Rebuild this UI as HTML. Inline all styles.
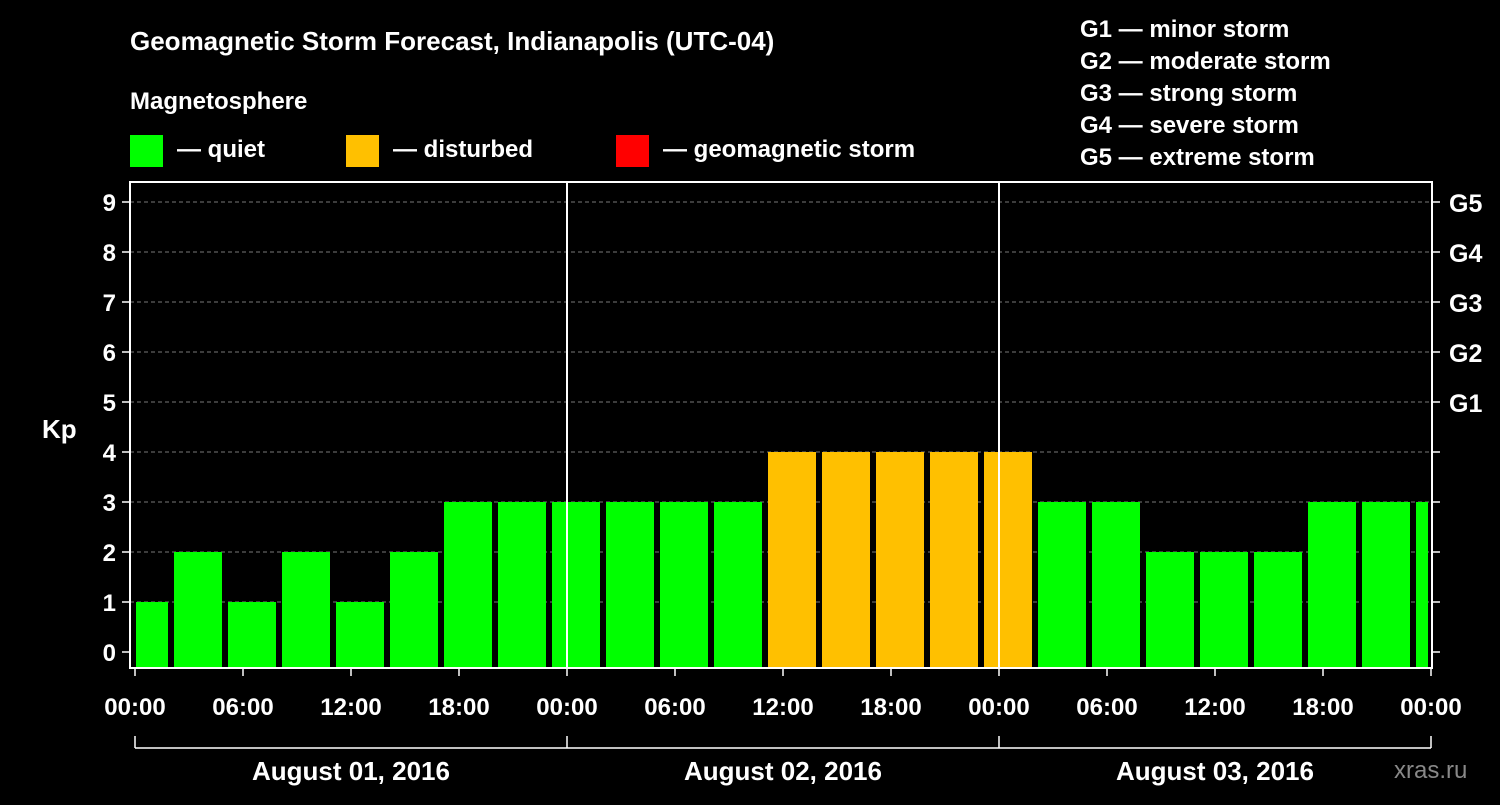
<!DOCTYPE html>
<html><head><meta charset="utf-8"><style>
body{margin:0;background:#000;width:1500px;height:800px;overflow:hidden}
svg text{font-family:"Liberation Sans",Arial,sans-serif;font-weight:bold;fill:#fff}
</style></head><body>
<svg id="c" width="1500" height="800">
<text x="130" y="50" font-size="26">Geomagnetic Storm Forecast, Indianapolis (UTC-04)</text>
<text x="130" y="109" font-size="24">Magnetosphere</text>
<g><rect x="130" y="135" width="33" height="32" fill="#00ff00"/><text x="177" y="157" font-size="24">— quiet</text></g>
<g><rect x="346" y="135" width="33" height="32" fill="#ffc000"/><text x="393" y="157" font-size="24">— disturbed</text></g>
<g><rect x="616" y="135" width="33" height="32" fill="#ff0000"/><text x="663" y="157" font-size="24">— geomagnetic storm</text></g>
<g font-size="24">
<text x="1080" y="37">G1 — minor storm</text><text x="1080" y="69">G2 — moderate storm</text><text x="1080" y="101">G3 — strong storm</text><text x="1080" y="133">G4 — severe storm</text><text x="1080" y="165">G5 — extreme storm</text></g>
<text x="42" y="438" font-size="26">Kp</text>
<g id="plot"></g>
<text x="1394" y="778" font-size="24" fill="#888" style="fill:#888;font-weight:normal">xras.ru</text>
</svg>
<script>
const kpValues=[1,2,1,2,1,2,3,3,3,3,3,3,4,4,4,4,4,3,3,2,2,2,3,3,3];
const yTicks=[0,1,2,3,4,5,6,7,8,9];
const gLabels=[[5,"G1"],[6,"G2"],[7,"G3"],[8,"G4"],[9,"G5"]];
const xLabels=["00:00","06:00","12:00","18:00","00:00","06:00","12:00","18:00","00:00","06:00","12:00","18:00","00:00"];
const dayLabels=["August 01, 2016","August 02, 2016","August 03, 2016"];
const L=130,R=1432,T=182,B=668;
const y=v=>652-v*50, x=h=>135+h*18;
const ns="http://www.w3.org/2000/svg",g=document.getElementById('plot');
function el(t,a,p){const e=document.createElementNS(ns,t);for(const k in a)e.setAttribute(k,a[k]);(p||g).appendChild(e);return e;}
yTicks.forEach(v=>{
 if(v>0){const l=el('line',{x1:L,x2:R,y1:y(v),y2:y(v),stroke:'#777','stroke-dasharray':'4,3'});}
 el('line',{x1:L-8,x2:L,y1:y(v),y2:y(v),stroke:'#fff','stroke-width':1.5});
 el('line',{x1:R,x2:R+8,y1:y(v),y2:y(v),stroke:'#fff','stroke-width':1.5});
 const t=el('text',{x:L-14,y:y(v)+9,'font-size':24,'text-anchor':'end'});t.textContent=v;
 
});
gLabels.forEach(([v,s])=>{const t=el('text',{x:1449,y:y(v)+10,'font-size':25});t.textContent=s;
 });
kpValues.forEach((v,k)=>{
 let x0=x(3*k-1)+3,x1=x(3*k+2)-3;x0=Math.max(x0,L+6);x1=Math.min(x1,R-4);
 const r=el('rect',{x:x0,y:y(v),width:x1-x0,height:B-y(v),fill:v>=5?'#ff0000':v>=4?'#ffc000':'#00ff00'});
 
});
el('rect',{x:L,y:T,width:R-L,height:B-T,fill:'none',stroke:'#fff','stroke-width':2});
[1,2].forEach(d=>el('line',{x1:x(24*d),x2:x(24*d),y1:T,y2:B,stroke:'#fff','stroke-width':2}));
xLabels.forEach((s,i)=>{const h=6*i;
 el('line',{x1:x(h),x2:x(h),y1:B,y2:B+8,stroke:'#fff','stroke-width':1.5});
 const t=el('text',{x:x(h),y:715,'font-size':24,'text-anchor':'middle'});t.textContent=s;
 });
el('line',{x1:x(0),x2:x(72),y1:748,y2:748,stroke:'#fff','stroke-width':1.5});
[0,1,2,3].forEach(d=>el('line',{x1:x(24*d),x2:x(24*d),y1:736,y2:748,stroke:'#fff','stroke-width':1.5}));
dayLabels.forEach((s,i)=>{const t=el('text',{x:x(24*i+12),y:780,'font-size':26,'text-anchor':'middle'});t.textContent=s;
 });
</script>
</body></html>
